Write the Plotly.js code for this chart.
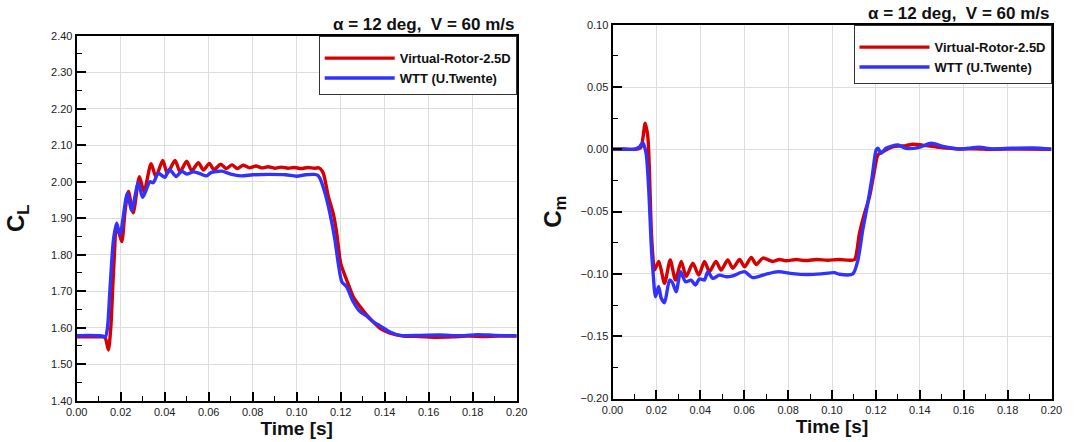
<!DOCTYPE html>
<html>
<head>
<meta charset="utf-8">
<script src="https://cdn.plot.ly/plotly-3.0.1.min.js"></script>
<style>html,body{margin:0;padding:0;background:#fff;}#chart{width:1076px;height:442px;}</style>
</head>
<body>
<div id="chart"></div>
<script>
// ---- Data ----
var seriesNames = ['Virtual-Rotor-2.5D', 'WTT (U.Twente)'];
var conditionText = 'α = 12 deg,\u00a0 V = 60 m/s';
var xTickLabelsFmt = '.2f';

// Lift coefficient, Virtual-Rotor-2.5D
var tClRed = [0.000,0.005,0.010,0.012,0.0130,0.0144,0.0155,0.0167,0.0182,0.0192,0.0205,0.0220,0.0235,0.0257,0.0285,0.0306,0.0338,0.0360,0.0391,0.0412,0.0447,0.0470,0.0500,0.0523,0.0553,0.0576,0.0603,0.0624,0.0655,0.0679,0.0706,0.0730,0.0757,0.0785,0.0815,0.0840,0.0870,0.0900,0.0930,0.0960,0.0990,0.1020,0.1050,0.1080,0.1100,0.1106,0.1121,0.1144,0.1166,0.1182,0.1200,0.1227,0.1257,0.1288,0.1318,0.1348,0.1379,0.1424,0.1485,0.1560,0.1630,0.1710,0.1780,0.1850,0.1920,0.2000];
var clRed = [1.575,1.575,1.575,1.575,1.572,1.539,1.600,1.749,1.868,1.860,1.836,1.920,1.973,1.915,2.014,1.973,2.049,2.014,2.058,2.023,2.058,2.027,2.056,2.030,2.052,2.032,2.050,2.033,2.048,2.036,2.046,2.036,2.045,2.038,2.043,2.038,2.041,2.037,2.040,2.037,2.039,2.036,2.039,2.037,2.038,2.036,2.023,1.959,1.913,1.859,1.776,1.731,1.685,1.658,1.635,1.616,1.598,1.585,1.577,1.576,1.574,1.575,1.577,1.576,1.577,1.577];

// Lift coefficient, WTT (U.Twente)
var tClBlue = [0.000,0.005,0.010,0.0120,0.0130,0.0140,0.0151,0.0167,0.0182,0.0197,0.0230,0.0250,0.0280,0.0300,0.0333,0.0348,0.0371,0.0401,0.0421,0.0452,0.0477,0.0500,0.0530,0.0560,0.0590,0.0610,0.0660,0.0700,0.0747,0.0800,0.0874,0.0950,0.1000,0.1040,0.1080,0.1095,0.1106,0.1129,0.1151,0.1174,0.1189,0.1205,0.1227,0.1257,0.1288,0.1318,0.1348,0.1379,0.1424,0.1470,0.1560,0.1650,0.1750,0.1820,0.1900,0.2000];
var clBlue = [1.578,1.579,1.578,1.577,1.574,1.600,1.703,1.840,1.886,1.854,1.968,1.922,1.997,1.957,2.000,1.997,2.023,2.012,2.034,2.014,2.029,2.021,2.027,2.022,2.016,2.025,2.029,2.021,2.016,2.019,2.020,2.019,2.015,2.019,2.020,2.018,2.009,1.968,1.913,1.840,1.776,1.726,1.712,1.671,1.644,1.632,1.616,1.605,1.588,1.579,1.579,1.580,1.578,1.581,1.579,1.578];

// Pitching-moment coefficient, Virtual-Rotor-2.5D
var tCmRed = [0.000,0.005,0.010,0.0120,0.0131,0.0149,0.0161,0.0169,0.0176,0.0184,0.0191,0.0211,0.0237,0.0263,0.0287,0.0313,0.0336,0.0366,0.0393,0.0419,0.0442,0.0471,0.0495,0.0525,0.0548,0.0579,0.0602,0.0632,0.0655,0.0685,0.0730,0.0760,0.0791,0.0837,0.0880,0.0930,0.0980,0.1030,0.1080,0.1103,0.1125,0.1148,0.1171,0.1194,0.1209,0.1231,0.1277,0.1337,0.1368,0.1428,0.1489,0.1580,0.1650,0.1730,0.1850,0.2000];
var cmRed = [0.000,0.000,0.000,0.0005,0.002,0.0209,0.010,-0.022,-0.062,-0.086,-0.097,-0.090,-0.1075,-0.0888,-0.105,-0.090,-0.102,-0.0915,-0.1009,-0.090,-0.0982,-0.090,-0.0969,-0.0888,-0.0955,-0.0885,-0.0944,-0.0867,-0.0925,-0.0873,-0.0900,-0.0885,-0.0895,-0.0885,-0.0893,-0.0884,-0.0890,-0.0885,-0.0890,-0.0885,-0.0674,-0.0514,-0.038,-0.0166,-0.0046,-0.002,0.002,0.003,0.004,0.003,0.0016,0.0003,0.0005,0.000,0.0002,0.000];

// Pitching-moment coefficient, WTT (U.Twente)
var tCmBlue = [0.000,0.005,0.010,0.0123,0.0138,0.0153,0.0166,0.0176,0.0184,0.0196,0.0210,0.0222,0.0237,0.0260,0.0273,0.0290,0.0310,0.0333,0.0358,0.0378,0.0396,0.0419,0.0434,0.0457,0.0487,0.0518,0.0548,0.0601,0.0639,0.0700,0.0755,0.0821,0.0888,0.0950,0.1011,0.1034,0.1095,0.1118,0.1140,0.1163,0.1183,0.1201,0.1209,0.1224,0.1246,0.1300,0.1337,0.1398,0.1452,0.1505,0.1580,0.1670,0.1730,0.1820,0.1914,0.2000];
var cmBlue = [0.000,0.0003,0.000,0.002,0.0053,-0.0032,-0.0353,-0.0754,-0.0969,-0.1183,-0.110,-0.1196,-0.1231,-0.1049,-0.107,-0.1143,-0.0982,-0.1063,-0.105,-0.1089,-0.104,-0.1049,-0.0982,-0.1036,-0.101,-0.1023,-0.1016,-0.0982,-0.1030,-0.1002,-0.0982,-0.0998,-0.1005,-0.1000,-0.0990,-0.1003,-0.1000,-0.0889,-0.0648,-0.0433,-0.022,-0.0006,0.0008,-0.0032,0.0008,0.0035,0.0008,0.0016,0.0048,0.0024,0.0003,0.0016,0.0003,0.0008,0.001,0.000];

// ---- Styling ----
var RED = 'rgb(215,0,0)';
var BLUE = 'rgb(50,50,255)';
var FONT = 'Liberation Sans, Arial, sans-serif';
var W = 1076, H = 442;
function px(x){ return x / W; }
function py(y){ return 1 - y / H; }

function mkTrace(x, y, name, color, xa, ya, leg){
  return {x: x, y: y, name: name, type: 'scatter', mode: 'lines',
    xaxis: xa, yaxis: ya, legend: leg,
    line: {color: color, width: 3.4, shape: 'spline', smoothing: 0.7}};
}

var traces = [
  mkTrace(tClRed, clRed, seriesNames[0], RED, 'x', 'y', 'legend'),
  mkTrace(tClBlue, clBlue, seriesNames[1], BLUE, 'x', 'y', 'legend'),
  mkTrace(tCmRed, cmRed, seriesNames[0], RED, 'x2', 'y2', 'legend2'),
  mkTrace(tCmBlue, cmBlue, seriesNames[1], BLUE, 'x2', 'y2', 'legend2')
];

function xAxis(domain, anchor){
  return {domain: domain, anchor: anchor, range: [0, 0.2], dtick: 0.02, tick0: 0,
    tickformat: xTickLabelsFmt, ticks: 'inside', ticklen: 9, tickwidth: 2, tickcolor: '#000',
    showline: true, linewidth: 2, linecolor: '#000', mirror: true,
    showgrid: true, gridcolor: '#dddddd', gridwidth: 1, zeroline: false,
    minor: {ticks: 'inside', ticklen: 5, tickwidth: 1, tickcolor: '#000', dtick: 0.01, showgrid: false},
    tickfont: {family: FONT, size: 11, color: '#222'}, automargin: false,
    title: {text: '<b>Time [s]</b>', font: {family: FONT, size: 19, color: '#111'}, standoff: 5}};
}
function yAxis(domain, anchor, range, dtick, title, standoff){
  return {domain: domain, anchor: anchor, range: range, dtick: dtick, tick0: range[0],
    tickformat: '.2f', ticks: 'inside', ticklen: 9, tickwidth: 2, tickcolor: '#000',
    showline: true, linewidth: 2, linecolor: '#000', mirror: true,
    showgrid: true, gridcolor: '#dddddd', gridwidth: 1, zeroline: false,
    minor: {ticks: 'inside', ticklen: 5, tickwidth: 1, tickcolor: '#000', dtick: dtick / 2, showgrid: false},
    tickfont: {family: FONT, size: 11, color: '#222'}, automargin: false,
    title: {text: title, font: {family: FONT, size: 24, color: '#111'}, standoff: standoff}};
}

var legendCommon = {bgcolor: '#fff', bordercolor: '#333', borderwidth: 1,
  font: {family: FONT, size: 13, color: '#111', weight: 'bold'},
  title: {text: ' ', font: {family: FONT, size: 5}},
  xanchor: 'right', yanchor: 'top', itemwidth: 70, tracegroupgap: 0};

var layout = {
  width: W, height: H, paper_bgcolor: '#fff', plot_bgcolor: '#fff',
  margin: {l: 0, r: 0, t: 0, b: 0},
  showlegend: true,
  xaxis: xAxis([px(76.7), px(516.7)], 'y'),
  yaxis: yAxis([py(400.7), py(35.7)], 'x', [1.4, 2.4], 0.1, '<b>C<sub>L</sub></b>', 20),
  xaxis2: xAxis([px(612.5), px(1051.5)], 'y2'),
  yaxis2: yAxis([py(398.5), py(24.7)], 'x2', [-0.2, 0.1], 0.05, '<b>C<sub>m</sub></b>', 12),
  legend: Object.assign({}, legendCommon, {x: px(516.7), y: py(35.7)}),
  legend2: Object.assign({}, legendCommon, {x: px(1051.5), y: py(24.7)}),
  annotations: [
    {xref: 'x domain', yref: 'y domain', x: 1, y: 1, xanchor: 'right', yanchor: 'bottom', yshift: 0,
     showarrow: false, text: '<b>' + conditionText + '</b>', font: {family: FONT, size: 17, color: '#111'}},
    {xref: 'x2 domain', yref: 'y2 domain', x: 1, y: 1, xanchor: 'right', yanchor: 'bottom', yshift: 0,
     showarrow: false, text: '<b>' + conditionText + '</b>', font: {family: FONT, size: 17, color: '#111'}}
  ]
};

Plotly.newPlot('chart', traces, layout, {displayModeBar: false, staticPlot: true});
</script>
</body>
</html>
